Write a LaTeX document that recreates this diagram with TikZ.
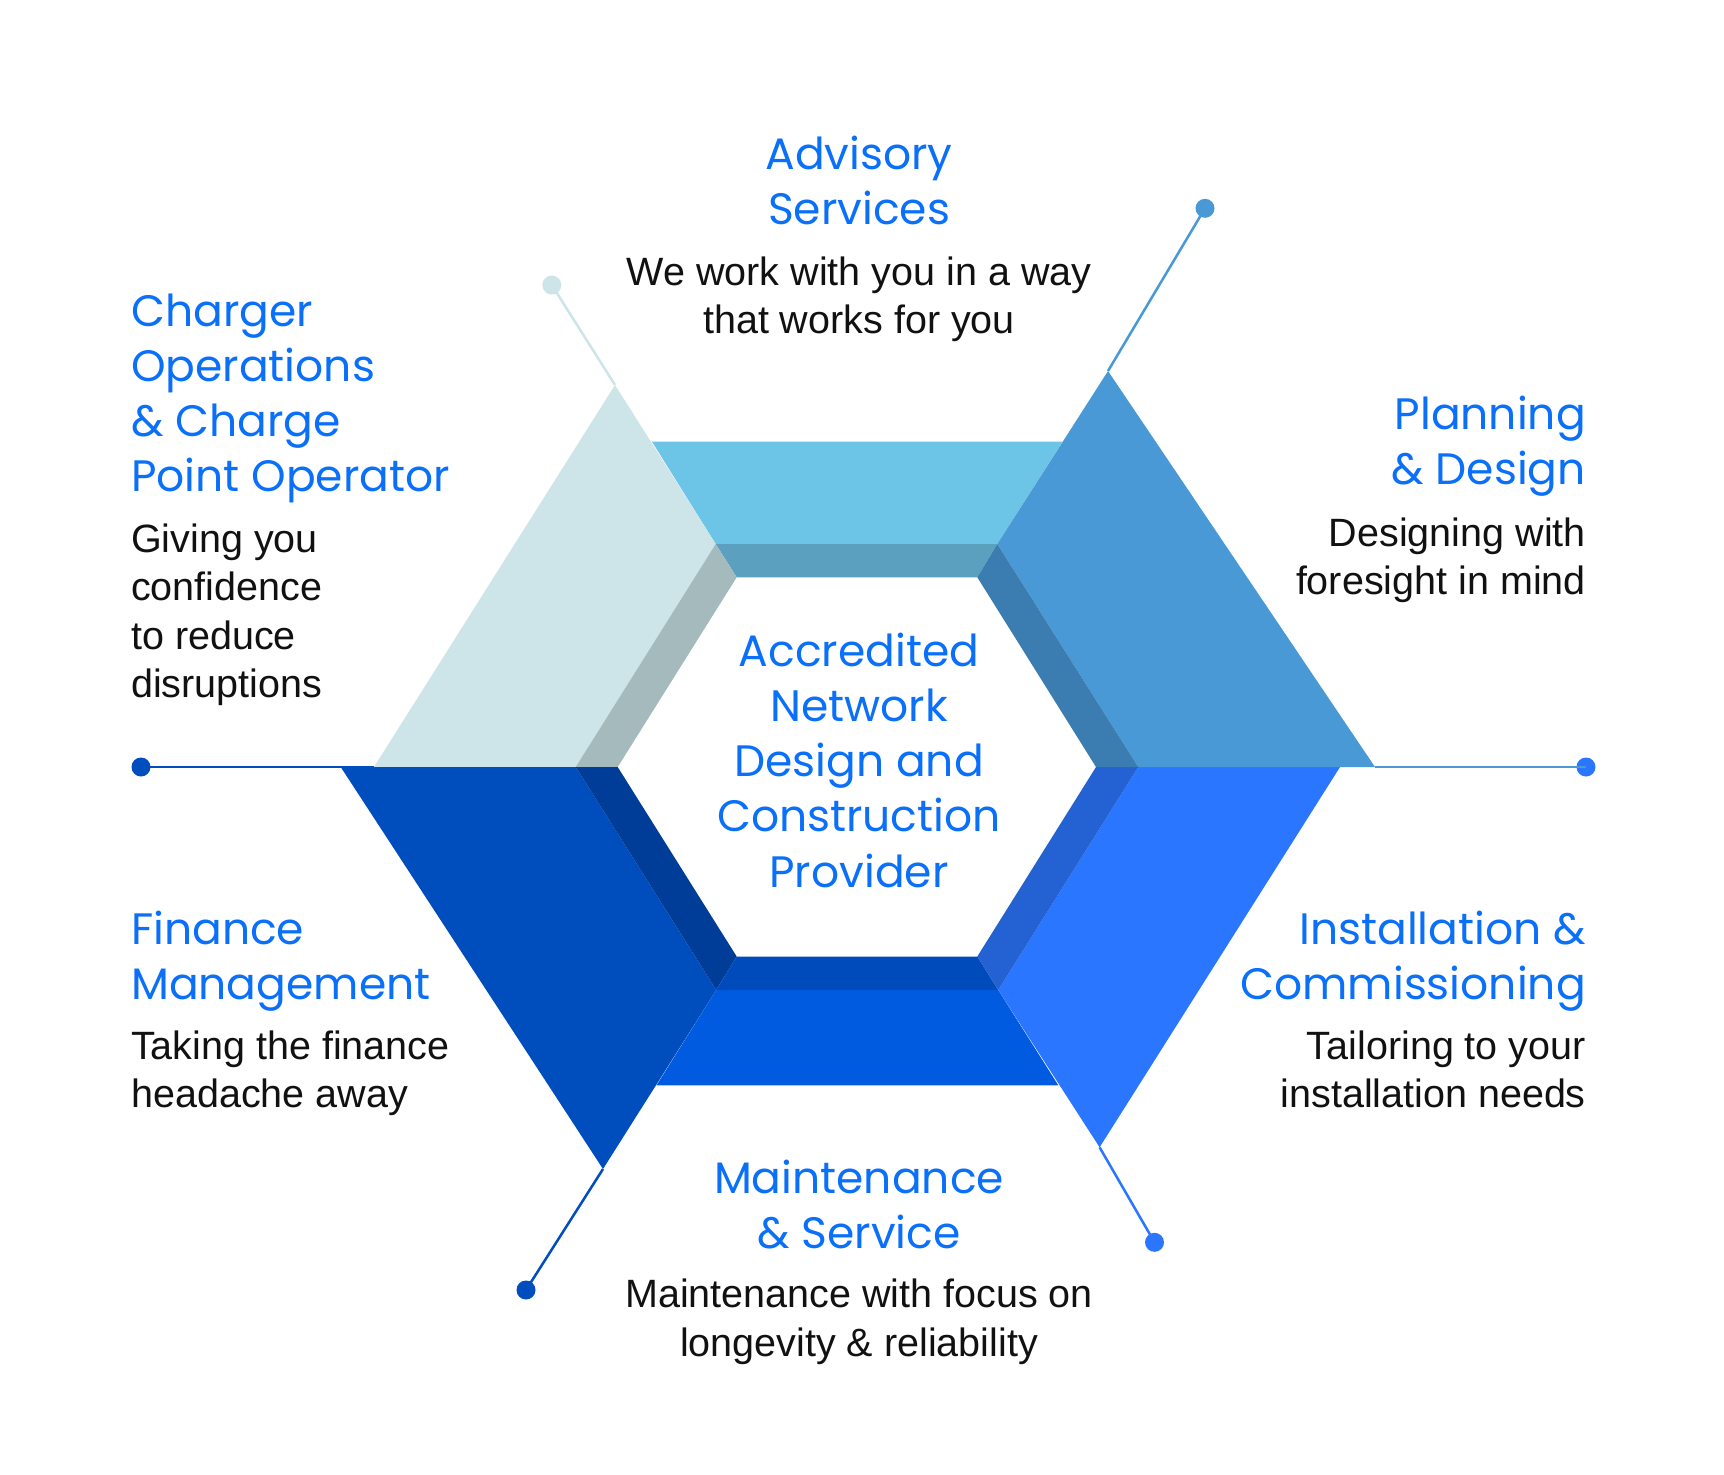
\documentclass[tikz,border=0pt]{standalone}
\usepackage{fontspec}
\newfontfamily\titlefont{Poppins}
\newfontfamily\bodyfont{Liberation Sans}
\definecolor{titleblue}{HTML}{0A70FA}
\definecolor{bodyblack}{HTML}{111111}
\definecolor{topc}{HTML}{6CC4E7}
\definecolor{topb}{HTML}{5BA0BE}
\definecolor{tlc}{HTML}{CDE5E8}
\definecolor{tlb}{HTML}{A5BABC}
\definecolor{trc}{HTML}{4A99D7}
\definecolor{trb}{HTML}{3C7DB1}
\definecolor{brc}{HTML}{2B76FF}
\definecolor{brb}{HTML}{2461D3}
\definecolor{bc}{HTML}{005BE0}
\definecolor{bb}{HTML}{004BBB}
\definecolor{blc}{HTML}{004DBE}
\definecolor{blb}{HTML}{003D98}
\begin{document}
\begin{tikzpicture}[x=1pt,y=-1pt,
  ttl/.style={font=\titlefont\fontsize{44}{55}\selectfont, text=titleblue, inner sep=0pt},
  bodytxt/.style={font=\bodyfont\fontsize{39.5}{48}\selectfont, text=bodyblack, inner sep=0pt},
  enddot/.style={circle, inner sep=0pt, minimum size=19pt},
  conn/.style={line width=2.5pt}]
\useasboundingbox (0,0) rectangle (1724,1475);
\fill[white] (0,0) rectangle (1724,1475);
% hexagon points
\coordinate (I0) at (1096,767);
\coordinate (I60) at (977.3,577.3);
\coordinate (I120) at (736.7,577.3);
\coordinate (I180) at (617.7,767);
\coordinate (I240) at (736.7,956.5);
\coordinate (I300) at (977.3,956.5);
\coordinate (M0) at (1138.3,767);
\coordinate (M60) at (997.3,544);
\coordinate (M120) at (715.7,544);
\coordinate (M180) at (575.7,767);
\coordinate (M240) at (716.2,990);
\coordinate (M300) at (998.2,990);
\coordinate (Ta) at (1062.5,441.7);
\coordinate (Tb) at (652,441.7);
\coordinate (TLt) at (615,385);
\coordinate (TLl) at (374,767);
\coordinate (BLl) at (340.7,767);
\coordinate (BLb) at (603,1169);
\coordinate (Bl) at (656.5,1085.3);
\coordinate (Br) at (1058.3,1085.3);
\coordinate (BRb) at (1099.6,1147.3);
\coordinate (BRr) at (1340,767);
\coordinate (TRr) at (1375,767);
\coordinate (TRt) at (1108,371);
% end dots
\node[enddot, fill=tlc] (TLd) at (551.8,285) {};
\node[enddot, fill=trc] (TRd) at (1205,208.3) {};
\node[enddot, fill=brc] (Rd) at (1586,767) {};
\node[enddot, fill=blc] (Ld) at (141,767) {};
\node[enddot, fill=blc] (BLd) at (526,1290) {};
\node[enddot, fill=brc] (BRd) at (1154.5,1242.3) {};
% connectors
\draw[conn, tlc] (TLt) -- (TLd.center);
\draw[conn, trc] (TRt) -- (TRd.center);
\draw[conn, trc] (TRr) -- (Rd.center);
\draw[conn, blc] (TLl) -- (Ld.center);
\draw[conn, blc] (BLb) -- (BLd.center);
\draw[conn, brc] (BRb) -- (BRd.center);
% segments
\fill[topc] (M60) -- (Ta) -- (Tb) -- (M120) -- cycle;
\fill[topb] (I60) -- (M60) -- (M120) -- (I120) -- cycle;
\fill[tlc] (M120) -- (TLt) -- (TLl) -- (M180) -- cycle;
\fill[tlb] (I120) -- (M120) -- (M180) -- (I180) -- cycle;
\fill[blc] (M180) -- (BLl) -- (BLb) -- (M240) -- cycle;
\fill[blb] (I180) -- (M180) -- (M240) -- (I240) -- cycle;
\fill[bc] (M240) -- (Bl) -- (Br) -- (M300) -- cycle;
\fill[bb] (I240) -- (M240) -- (M300) -- (I300) -- cycle;
\fill[brc] (M300) -- (BRb) -- (BRr) -- (M0) -- cycle;
\fill[brb] (I300) -- (M300) -- (M0) -- (I0) -- cycle;
\fill[trc] (M0) -- (TRr) -- (TRt) -- (M60) -- cycle;
\fill[trb] (I0) -- (M0) -- (M60) -- (I60) -- cycle;
% Advisory
\node[ttl, anchor=base] (adv1) at (859,169) {Advisory};
\node[ttl, anchor=base] (adv2) at (859,224) {Services};
\node[bodytxt, anchor=base] (adv3) at (859,285.7) {We work with you in a way};
\node[bodytxt, anchor=base] (adv4) at (859,333.3) {that works for you};
% Charger
\node[ttl, anchor=base west] (ch1) at (131,326) {Charger};
\node[ttl, anchor=base west] (ch2) at (131,381) {Operations};
\node[ttl, anchor=base west] (ch3) at (131,436) {\& Charge};
\node[ttl, anchor=base west] (ch4) at (131,491.5) {Point Operator};
\node[bodytxt, anchor=base west] (ch5) at (131,552) {Giving you};
\node[bodytxt, anchor=base west] (ch6) at (131,600.5) {confidence};
\node[bodytxt, anchor=base west] (ch7) at (131,649) {to reduce};
\node[bodytxt, anchor=base west] (ch8) at (131,697.5) {disruptions};
% Planning
\node[ttl, anchor=base east] (pl1) at (1586,429.5) {Planning};
\node[ttl, anchor=base east] (pl2) at (1586,484.5) {\& Design};
\node[bodytxt, anchor=base east] (pl3) at (1586,546.5) {Designing with};
\node[bodytxt, anchor=base east] (pl4) at (1586,594) {foresight in mind};
% Finance
\node[ttl, anchor=base west] (fi1) at (131,944.6) {Finance};
\node[ttl, anchor=base west] (fi2) at (131,999.6) {Management};
\node[bodytxt, anchor=base west] (fi3) at (131,1059.2) {Taking the finance};
\node[bodytxt, anchor=base west] (fi4) at (131,1107.6) {headache away};
% Installation
\node[ttl, anchor=base east] (in1) at (1586,944.6) {Installation \&};
\node[ttl, anchor=base east] (in2) at (1586,999.6) {Commissioning};
\node[bodytxt, anchor=base east] (in3) at (1586,1059.2) {Tailoring to your};
\node[bodytxt, anchor=base east] (in4) at (1586,1107.6) {installation needs};
% Maintenance
\node[ttl, anchor=base] (ma1) at (859,1193.2) {Maintenance};
\node[ttl, anchor=base] (ma2) at (859,1248.2) {\& Service};
\node[bodytxt, anchor=base] (ma3) at (859,1307.8) {Maintenance with focus on};
\node[bodytxt, anchor=base] (ma4) at (859,1356.2) {longevity \& reliability};
% Center
\node[ttl, anchor=base] (ce1) at (859,666.3) {Accredited};
\node[ttl, anchor=base] (ce2) at (859,721.5) {Network};
\node[ttl, anchor=base] (ce3) at (859,776.7) {Design and};
\node[ttl, anchor=base] (ce4) at (859,831.9) {Construction};
\node[ttl, anchor=base] (ce5) at (859,887.1) {Provider};
\end{tikzpicture}
\end{document}
